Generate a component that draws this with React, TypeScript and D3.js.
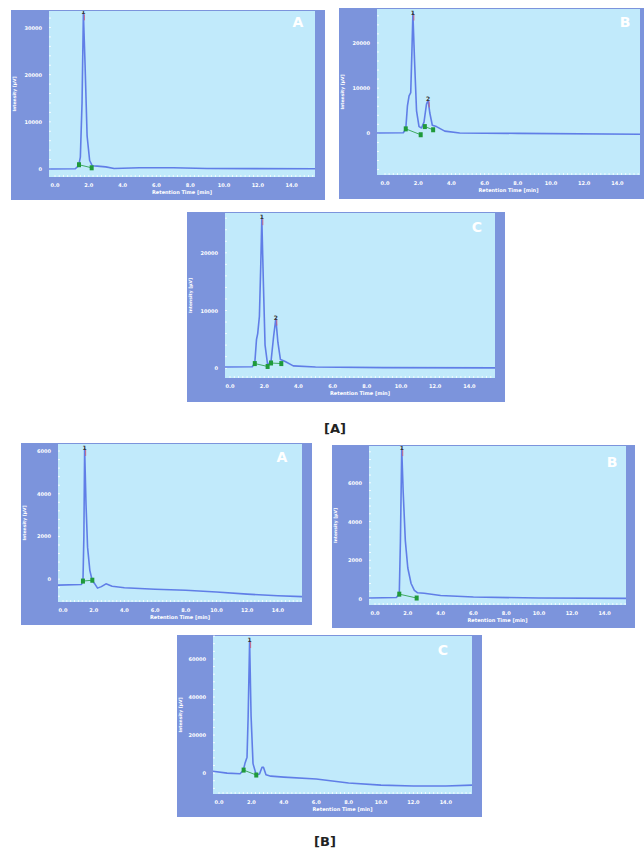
import React from 'react';
import * as d3 from 'd3';

// retention time ticks shared by every chromatogram
const timeTicks = [0, 2, 4, 6, 8, 10, 12, 14];

// [time (min), intensity (µV)]
const traceAA = [[-0.4, 0], [1.2, 50], [1.4, 700], [1.5, 2500], [1.6, 14000], [1.68, 33000], [1.78, 22000], [1.9, 7000], [2.05, 1800], [2.2, 700], [2.5, 600], [3.0, 450], [3.5, 100], [5.0, 250], [7.0, 250], [9.0, 100], [16, 50]];
const traceAB = [[-0.5, 100], [1.1, 150], [1.25, 900], [1.35, 6000], [1.45, 8300], [1.55, 9000], [1.62, 18000], [1.68, 26500], [1.78, 16000], [1.9, 5000], [2.05, 1500], [2.2, 1200], [2.35, 2500], [2.5, 6500], [2.6, 7300], [2.7, 4500], [2.85, 1800], [3.1, 1500], [3.6, 500], [4.5, 100], [8, 0], [15.5, -200]];
const traceAC = [[-0.4, 200], [1.3, 250], [1.45, 900], [1.55, 5000], [1.62, 6000], [1.72, 9000], [1.8, 18000], [1.86, 26000], [1.95, 15000], [2.05, 4000], [2.2, 600], [2.4, 1200], [2.55, 5500], [2.68, 8600], [2.8, 4500], [2.95, 1500], [3.2, 1200], [3.7, 400], [5, 200], [9, 100], [15.6, 50]];
const traceBA = [[-0.4, -280], [1.2, -250], [1.3, -100], [1.36, 2000], [1.41, 6100], [1.5, 3500], [1.6, 1500], [1.75, 400], [1.9, -50], [2.05, -200], [2.25, -420], [2.5, -350], [2.8, -220], [3.2, -330], [4, -400], [6, -470], [8, -520], [10, -600], [12, -700], [14, -780], [15.6, -820]];
const traceBB = [[-0.4, 50], [1.3, 80], [1.48, 250], [1.55, 3000], [1.63, 7740], [1.72, 5500], [1.85, 3000], [2.0, 1600], [2.2, 800], [2.4, 450], [2.6, 320], [3.0, 300], [4, 180], [6, 100], [10, 50], [15.4, 30]];
const traceBC = [[-0.4, 1000], [0.5, 0], [1.3, -300], [1.5, 1500], [1.6, 5000], [1.73, 8400], [1.8, 30000], [1.89, 69400], [1.98, 30000], [2.1, 5000], [2.3, -1000], [2.5, -500], [2.65, 3000], [2.75, 3000], [2.9, -800], [3.2, -1600], [4, -2100], [6, -3100], [8, -5200], [10, -6300], [12, -6800], [14, -6800], [15.7, -6300]];

// integration start / end marks, paired per peak
const marksAA = [[1.42, 900], [2.17, 250]];
const marksAB = [[1.25, 1000], [2.15, -300], [2.4, 1500], [2.9, 800]];
const marksAC = [[1.45, 800], [2.2, 300], [2.4, 900], [3.0, 800]];
const marksBA = [[1.3, -90], [1.91, -50]];
const marksBB = [[1.48, 250], [2.54, 50]];
const marksBC = [[1.52, 1600], [2.3, -1000]];

// peak numbers and apex
const peaksAA = [[1, 1.68, 33000]];
const peaksAB = [[1, 1.68, 26500], [2, 2.6, 7300]];
const peaksAC = [[1, 1.86, 26000], [2, 2.68, 8600]];
const peaksBA = [[1, 1.41, 6100]];
const peaksBB = [[1, 1.63, 7740]];
const peaksBC = [[1, 1.89, 69400]];

const yTicksA1 = [0, 10000, 20000, 30000];
const yTicks10k = [0, 10000, 20000];
const yTicks2k = [0, 2000, 4000, 6000];
const yTicks20k = [0, 20000, 40000, 60000];

const panels = [
  { letter: 'A', outer: [11, 10, 314, 190], plot: [49, 11, 266, 166], x0: 55, xPer: 16.9, yDomain: [-1700, 33500], yTicks: yTicksA1, trace: traceAA, marks: marksAA, peaks: peaksAA, letterAt: [298, 27] },
  { letter: 'B', outer: [339, 8, 305, 191], plot: [377, 9, 263, 166], x0: 385, xPer: 16.6, yDomain: [-9200, 27500], yTicks: yTicks10k, trace: traceAB, marks: marksAB, peaks: peaksAB, letterAt: [625, 27] },
  { letter: 'C', outer: [187, 212, 318, 190], plot: [225, 213, 270, 165], x0: 230, xPer: 17.1, yDomain: [-1700, 26900], yTicks: yTicks10k, trace: traceAC, marks: marksAC, peaks: peaksAC, letterAt: [477, 232] },
  { letter: 'A', outer: [21, 443, 291, 182], plot: [58, 444, 244, 158], x0: 63, xPer: 15.35, yDomain: [-1070, 6330], yTicks: yTicks2k, trace: traceBA, marks: marksBA, peaks: peaksBA, letterAt: [282, 462] },
  { letter: 'B', outer: [332, 445, 303, 183], plot: [369, 446, 257, 159], x0: 375, xPer: 16.4, yDomain: [-310, 7900], yTicks: yTicks2k, trace: traceBB, marks: marksBB, peaks: peaksBB, letterAt: [612, 467] },
  { letter: 'C', outer: [177, 635, 305, 182], plot: [213, 636, 259, 158], x0: 219, xPer: 16.2, yDomain: [-10970, 72060], yTicks: yTicks20k, trace: traceBC, marks: marksBC, peaks: peaksBC, letterAt: [443, 655] },
];

const panelDark = '#7c94dc';
const plotLight = '#c1eafb';
const traceBlue = '#5572e4';
const markGreen = '#1f9a3a';

function Chromatogram({ p }) {
  const [ox, oy, ow, oh] = p.outer;
  const [px, py, pw, ph] = p.plot;
  const x = d3.scaleLinear()
    .domain([(px - p.x0) / p.xPer, (px + pw - p.x0) / p.xPer])
    .range([px, px + pw]);
  const y = d3.scaleLinear().domain(p.yDomain).range([py + ph, py]);
  const line = d3.line().x(d => x(d[0])).y(d => y(d[1]));
  const minorX = d3.range(0, x.domain()[1], 0.25);
  const step = p.yTicks[1] / 5;
  const minorY = d3.range(Math.ceil(p.yDomain[0] / step) * step, p.yDomain[1], step);
  const fmt = d3.format('.1f');
  const pairs = d3.range(0, p.marks.length, 2).map(i => [p.marks[i], p.marks[i + 1]]);

  return (
    <g>
      <rect x={ox} y={oy} width={ow} height={oh} fill={panelDark} />
      <rect x={px} y={py} width={pw} height={ph} fill={plotLight} />
      <clipPath id={`clip${ox}${oy}`}>
        <rect x={px} y={py} width={pw} height={ph} />
      </clipPath>
      {/* small ticks just inside the plot edge */}
      {minorX.map(t => (
        <line key={'mx' + t} x1={x(t)} x2={x(t)} y1={py + ph} y2={py + ph - 2} stroke="#fff" strokeWidth={0.8} />
      ))}
      {minorY.map(t => (
        <line key={'my' + t} x1={px} x2={px + 2} y1={y(t)} y2={y(t)} stroke="#fff" strokeWidth={0.8} />
      ))}
      <g clipPath={`url(#clip${ox}${oy})`}>
        {pairs.map((pr, i) => (
          <line key={'b' + i} x1={x(pr[0][0])} y1={y(pr[0][1])} x2={x(pr[1][0])} y2={y(pr[1][1])} stroke={markGreen} strokeWidth={0.8} />
        ))}
        <path d={line(p.trace)} fill="none" stroke={traceBlue} strokeWidth={1.6} strokeLinejoin="round" opacity={0.9} />
        {p.marks.map((m, i) => (
          <rect key={'m' + i} x={x(m[0]) - 2} y={y(m[1]) - 2.5} width={4} height={5} fill={markGreen} />
        ))}
        {p.peaks.map(pk => (
          <g key={'p' + pk[0]}>
            <line x1={x(pk[1]) + 1} x2={x(pk[1]) + 1} y1={y(pk[2]) + 1} y2={y(pk[2]) + 7} stroke="#d05070" strokeWidth={0.8} />
            <text x={x(pk[1])} y={y(pk[2]) + 1} fontSize={6} fontWeight="bold" fill="#333" textAnchor="middle" fontFamily="DejaVu Sans">{pk[0]}</text>
          </g>
        ))}
      </g>
      {p.yTicks.map(t => (
        <text key={'yt' + t} x={px - 7} y={y(t) + 2} fontSize={5} fontWeight="bold" fill="#fff" textAnchor="end" fontFamily="DejaVu Sans">{t}</text>
      ))}
      {timeTicks.map(t => (
        <text key={'xt' + t} x={x(t)} y={py + ph + 10} fontSize={5} fontWeight="bold" fill="#fff" textAnchor="middle" fontFamily="DejaVu Sans">{fmt(t)}</text>
      ))}
      <text x={px + pw / 2} y={py + ph + 17} fontSize={5} fontWeight="bold" fill="#fff" textAnchor="middle" fontFamily="DejaVu Sans">Retention Time [min]</text>
      <text transform={`translate(${ox + 5}, ${py + ph / 2}) rotate(-90)`} fontSize={4.5} fontWeight="bold" fill="#fff" textAnchor="middle" fontFamily="DejaVu Sans">Intensity [µV]</text>
      <text x={p.letterAt[0]} y={p.letterAt[1]} fontSize={14} fontWeight="bold" fill="#fff" textAnchor="middle" fontFamily="DejaVu Sans">{p.letter}</text>
    </g>
  );
}

export default function App() {
  return (
    <svg width={644} height={851} style={{ position: 'absolute', left: 0, top: 0, background: '#fff' }}>
      {panels.map((p, i) => <Chromatogram key={i} p={p} />)}
      <text x={335} y={433} fontSize={13} fontWeight="bold" fill="#222" textAnchor="middle" fontFamily="DejaVu Sans">[A]</text>
      <text x={325} y={846} fontSize={13} fontWeight="bold" fill="#222" textAnchor="middle" fontFamily="DejaVu Sans">[B]</text>
    </svg>
  );
}
